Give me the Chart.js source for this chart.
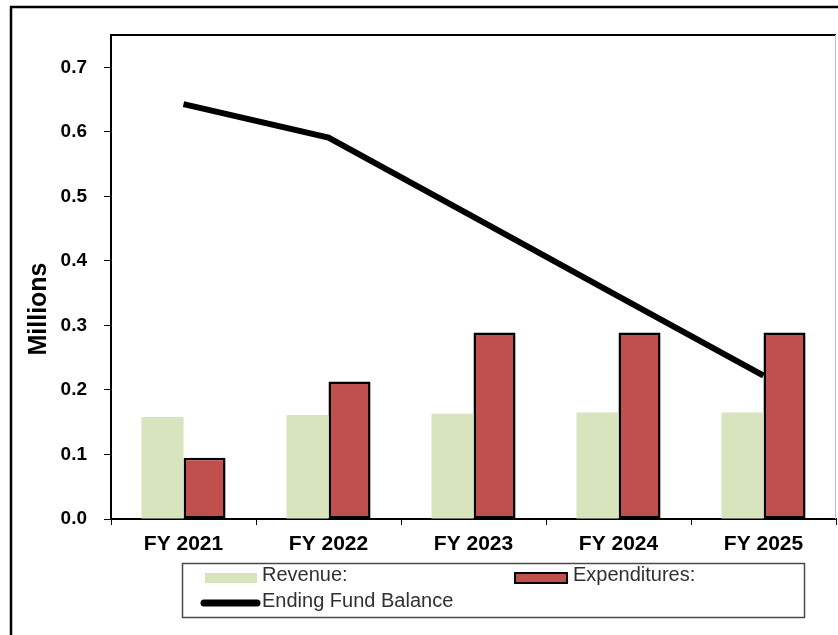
<!DOCTYPE html>
<html>
<head>
<meta charset="utf-8">
<script src="https://cdn.jsdelivr.net/npm/chart.js@4/dist/chart.umd.min.js"></script>
<style>
  html, body { margin: 0; padding: 0; background: #ffffff; }
  #wrap { width: 838px; height: 635px; position: relative; }
</style>
</head>
<body>
<div id="wrap"><canvas id="c" width="838" height="635"></canvas></div>
<script>
// Fiscal years on the category axis
const categories = ['FY 2021', 'FY 2022', 'FY 2023', 'FY 2024', 'FY 2025'];
// Values in millions
const revenue = [0.158, 0.161, 0.163, 0.165, 0.165];
const expenditures = [0.095, 0.213, 0.289, 0.289, 0.289];
const endingFundBalance = [0.643, 0.591, 0.468, 0.345, 0.222];
// Value axis tick marks
const yTicks = [0, 0.1, 0.2, 0.3, 0.4, 0.5, 0.6, 0.7];
const yAxisTitle = 'Millions';

const FONT = '"Liberation Sans", Arial, sans-serif';

// Outer frame, plot border, axis title and a boxed legend
const decorations = {
  id: 'decorations',
  beforeDraw(chart) {
    const ctx = chart.ctx;
    ctx.save();
    ctx.fillStyle = '#ffffff';
    ctx.fillRect(0, 0, chart.width, chart.height);
    ctx.restore();
  },
  afterDraw(chart) {
    const ctx = chart.ctx;
    const a = chart.chartArea;
    ctx.save();

    // outer frame
    ctx.strokeStyle = '#000000';
    ctx.lineWidth = 2.5;
    ctx.beginPath();
    ctx.moveTo(11, chart.height + 5);
    ctx.lineTo(11, 7);
    ctx.lineTo(chart.width + 5, 7);
    ctx.stroke();

    // plot area top and right edges
    ctx.lineWidth = 2;
    ctx.beginPath();
    ctx.moveTo(a.left, a.top);
    ctx.lineTo(a.right, a.top);
    ctx.stroke();
    ctx.strokeStyle = '#bdbdbd';
    ctx.lineWidth = 1;
    ctx.beginPath();
    ctx.moveTo(a.right - 0.5, a.top);
    ctx.lineTo(a.right - 0.5, a.bottom);
    ctx.stroke();

    // value axis title
    ctx.fillStyle = '#000000';
    ctx.font = 'bold 25px ' + FONT;
    ctx.textAlign = 'center';
    ctx.textBaseline = 'middle';
    ctx.translate(39, 309);
    ctx.rotate(-Math.PI / 2);
    ctx.fillText(yAxisTitle, 0, 0);
    ctx.setTransform(1, 0, 0, 1, 0, 0);

    // legend box
    ctx.strokeStyle = '#4a4a4a';
    ctx.lineWidth = 1.5;
    ctx.strokeRect(182.5, 563.5, 622, 54);

    const ds = chart.data.datasets;
    ctx.font = '20px ' + FONT;
    ctx.textAlign = 'left';
    ctx.textBaseline = 'alphabetic';

    // Revenue
    ctx.fillStyle = ds[0].backgroundColor;
    ctx.fillRect(205, 573, 52, 10);
    ctx.fillStyle = '#303030';
    ctx.fillText(ds[0].label, 262, 581);

    // Expenditures
    ctx.fillStyle = ds[1].backgroundColor;
    ctx.fillRect(515, 573, 52, 10);
    ctx.strokeStyle = ds[1].borderColor;
    ctx.lineWidth = 2;
    ctx.strokeRect(515, 573, 52, 10);
    ctx.fillStyle = '#303030';
    ctx.fillText(ds[1].label, 573, 581);

    // Ending Fund Balance
    ctx.strokeStyle = ds[2].borderColor;
    ctx.lineWidth = 7;
    ctx.lineCap = 'round';
    ctx.beginPath();
    ctx.moveTo(204, 603);
    ctx.lineTo(257, 603);
    ctx.stroke();
    ctx.fillStyle = '#303030';
    ctx.fillText(ds[2].label, 262, 607);

    ctx.restore();
  }
};

new Chart(document.getElementById('c'), {
  type: 'bar',
  data: {
    labels: categories,
    datasets: [
      {
        label: 'Revenue:',
        data: revenue,
        backgroundColor: '#D7E4BD',
        borderWidth: 0,
        order: 1
      },
      {
        label: 'Expenditures:',
        data: expenditures,
        backgroundColor: '#C0504D',
        borderColor: '#000000',
        borderWidth: 2.5,
        borderSkipped: false,
        order: 2
      },
      {
        type: 'line',
        label: 'Ending Fund Balance',
        data: endingFundBalance,
        borderColor: '#000000',
        backgroundColor: '#000000',
        borderWidth: 6,
        tension: 0,
        pointRadius: 0,
        borderCapStyle: 'butt',
        borderJoinStyle: 'miter',
        order: 0
      }
    ]
  },
  options: {
    responsive: false,
    animation: false,
    devicePixelRatio: 1,
    layout: { padding: { left: 0, top: 35, right: 2, bottom: 0 } },
    datasets: {
      bar: { barPercentage: 1.0, categoryPercentage: 0.58 }
    },
    plugins: {
      legend: { display: false },
      tooltip: { enabled: false },
      title: { display: false }
    },
    scales: {
      x: {
        afterFit(s) { s.height = 116; },
        grid: {
          offset: true,
          drawOnChartArea: false,
          drawTicks: true,
          tickLength: 6,
          color: '#000000',
          lineWidth: 1
        },
        border: { color: '#000000', width: 2 },
        ticks: {
          color: '#000000',
          padding: 7,
          maxRotation: 0,
          font: { family: FONT, size: 21, weight: 'bold' }
        }
      },
      y: {
        min: 0,
        max: 0.75,
        afterFit(s) { s.width = 111; },
        afterBuildTicks(s) { s.ticks = yTicks.map(v => ({ value: v })); },
        grid: {
          drawOnChartArea: false,
          drawTicks: true,
          tickLength: 7,
          color: '#000000',
          lineWidth: 1
        },
        border: { color: '#000000', width: 2 },
        ticks: {
          color: '#000000',
          padding: 17,
          font: { family: FONT, size: 19, weight: 'bold' },
          callback: v => Number(v).toFixed(1)
        }
      }
    }
  },
  plugins: [decorations]
});
</script>
</body>
</html>
